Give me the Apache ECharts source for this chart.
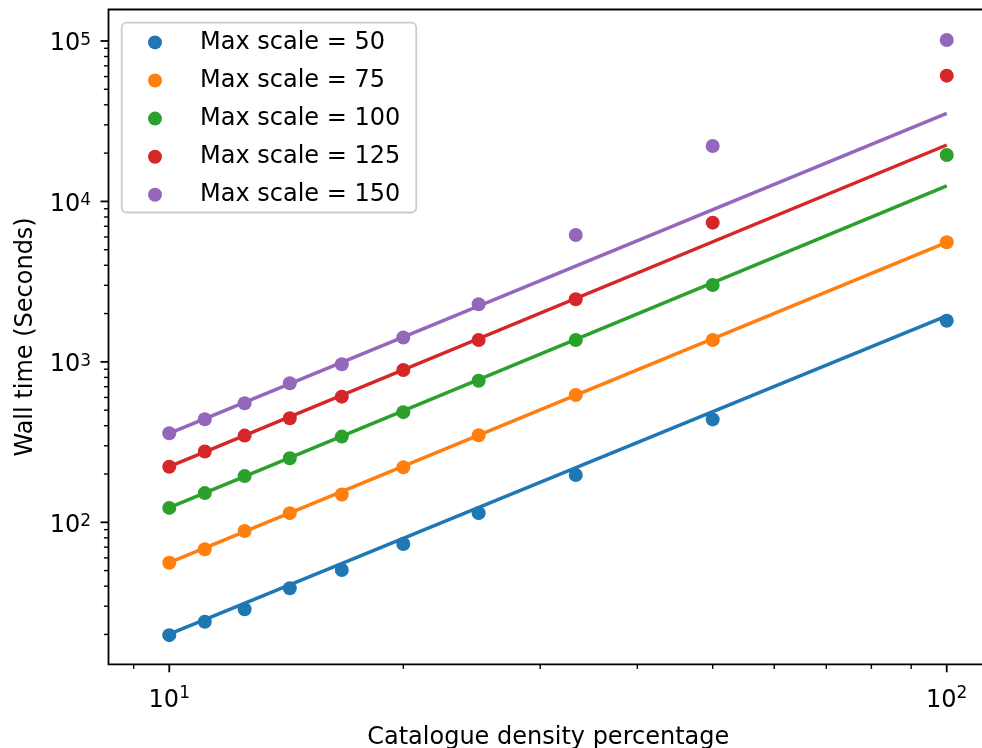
<!DOCTYPE html>
<html><head><meta charset="utf-8">
<script src="https://cdn.jsdelivr.net/npm/echarts@6/dist/echarts.min.js"></script>
<style>html,body{margin:0;padding:0;background:#fff}#c{width:982px;height:748px}</style>
</head><body><div id="c"></div>
<script>
// ---- data ----
const densities = [10, 11.11, 12.5, 14.29, 16.67, 20, 25, 33.33, 50, 100];
const wall50  = [19.8, 24.0, 28.7, 38.8, 50.4, 73.2, 114, 197, 438, 1805];
const wall75  = [56.0, 67.9, 88.2, 114, 149, 220, 349, 622, 1369, 5563];
const wall100 = [123, 152, 194, 251, 342, 486, 763, 1369, 3015, 19480];
const wall125 = [222, 276, 347, 445, 607, 890, 1369, 2455, 7371, 60780];
const wall150 = [359, 439, 552, 735, 966, 1418, 2285, 6177, 22160, 101460];
const fitX    = [10, 100];
const fit50   = [20.1, 1932];
const fit75   = [56.0, 5563];
const fit100  = [123.3, 12480];
const fit125  = [222, 22470];
const fit150  = [358.7, 35430];
const seriesNames = ['Max scale = 50', 'Max scale = 75', 'Max scale = 100', 'Max scale = 125', 'Max scale = 150'];
const xMajorTicks = [10, 100];
const yMajorTicks = [100, 1000, 10000, 100000];
const xLim = [8.353, 113];
const yLim = [13.03, 157100];

const colors = ['#1f77b4', '#ff7f0e', '#2ca02c', '#d62728', '#9467bd'];
const walls = [wall50, wall75, wall100, wall125, wall150];
const fits = [fit50, fit75, fit100, fit125, fit150];
const FONT = "'DejaVu Sans', sans-serif";

function minorTicks(lim) {
  const out = [];
  const k0 = Math.floor(Math.log10(lim[0])), k1 = Math.ceil(Math.log10(lim[1]));
  for (let k = k0; k <= k1; k++) for (let m = 2; m <= 9; m++) {
    const v = m * Math.pow(10, k);
    if (v >= lim[0] && v <= lim[1]) out.push(v);
  }
  return out;
}
const xMinor = minorTicks(xLim), yMinor = minorTicks(yLim);

function powLabel(v) {
  const e = Math.round(Math.log10(v));
  if (Math.abs(Math.log10(v) - e) > 1e-6) return '';
  return '{b|10}{s|' + e + '}';
}

const series = [];
walls.forEach((w, i) => {
  series.push({
    name: seriesNames[i], type: 'scatter', symbol: 'circle', symbolSize: 14,
    itemStyle: { color: colors[i], opacity: 1 }, z: 2,
    data: densities.map((d, j) => [d, w[j]])
  });
});
fits.forEach((f, i) => {
  series.push({
    name: 'fit ' + seriesNames[i], type: 'line', symbol: 'none', showSymbol: false,
    lineStyle: { color: colors[i], width: 3.5 }, z: 3, legendHoverLink: false,
    data: fitX.map((x, j) => [x, f[j]])
  });
});
series.push({
  type: 'custom', silent: true, clip: false, z: 5,
  data: [[xMajorTicks[0], yMajorTicks[0]]],
  renderItem: function (params, api) {
    const cs = params.coordSys;
    const bottom = cs.y + cs.height, left = cs.x;
    const ch = [];
    const addX = (v, len, w) => {
      const px = api.coord([v, yMajorTicks[0]])[0];
      ch.push({ type: 'line', shape: { x1: px, y1: bottom, x2: px, y2: bottom + len }, style: { stroke: '#000', lineWidth: w } });
    };
    const addY = (v, len, w) => {
      const py = api.coord([xMajorTicks[0], v])[1];
      ch.push({ type: 'line', shape: { x1: left, y1: py, x2: left - len, y2: py }, style: { stroke: '#000', lineWidth: w } });
    };
    xMajorTicks.forEach(v => addX(v, 8, 1.8));
    xMinor.forEach(v => addX(v, 4.6, 1.4));
    yMajorTicks.forEach(v => addY(v, 8, 1.8));
    yMinor.forEach(v => addY(v, 4.6, 1.4));
    return { type: 'group', children: ch };
  }
});

const chart = echarts.init(document.getElementById('c'), null, { renderer: 'canvas' });
chart.setOption({
  animation: false,
  backgroundColor: '#fff',
  textStyle: { fontFamily: FONT },
  grid: { left: 108.5, right: -6, top: 9.5, bottom: 83.7, show: true, borderColor: '#000', borderWidth: 1.8, backgroundColor: 'transparent', outerBoundsMode: 'none' },
  legend: {
    data: seriesNames, left: 121.7, top: 22.7, orient: 'vertical',
    icon: 'circle', itemWidth: 14, itemHeight: 14, itemGap: 14.1,
    padding: [7.7, 16, 5.7, 26.3],
    backgroundColor: 'rgba(255,255,255,0.8)', borderColor: '#cccccc', borderWidth: 1.8, borderRadius: 5,
    formatter: n => '{t|' + n + '}',
    textStyle: { rich: { t: { fontFamily: FONT, fontSize: 24, color: '#000', lineHeight: 30, padding: [0, 0, 0, 33] } } }
  },
  xAxis: {
    type: 'log', logBase: 10, min: xLim[0], max: xLim[1],
    name: 'Catalogue density percentage', nameLocation: 'middle', nameGap: 61,
    nameTextStyle: { fontFamily: FONT, fontSize: 24, color: '#000' },
    axisLine: { show: false }, axisTick: { show: false }, splitLine: { show: false }, minorTick: { show: false },
    axisLabel: {
      margin: 21, formatter: powLabel, showMinLabel: true, showMaxLabel: true,
      rich: {
        b: { fontFamily: FONT, fontSize: 24, color: '#000', lineHeight: 30 },
        s: { fontFamily: FONT, fontSize: 17, color: '#000', lineHeight: 18, verticalAlign: 'top' }
      }
    }
  },
  yAxis: {
    type: 'log', logBase: 10, min: yLim[0], max: yLim[1],
    name: 'Wall time (Seconds)', nameLocation: 'middle', nameGap: 71,
    nameTextStyle: { fontFamily: FONT, fontSize: 24, color: '#000' },
    axisLine: { show: false }, axisTick: { show: false }, splitLine: { show: false }, minorTick: { show: false },
    axisLabel: {
      margin: 17.5, formatter: powLabel,
      rich: {
        b: { fontFamily: FONT, fontSize: 24, color: '#000', lineHeight: 30, padding: [6, 0, 0, 0] },
        s: { fontFamily: FONT, fontSize: 17, color: '#000', lineHeight: 18, verticalAlign: 'top', padding: [6, 0, 0, 0] }
      }
    }
  },
  series: series
});
</script></body></html>
